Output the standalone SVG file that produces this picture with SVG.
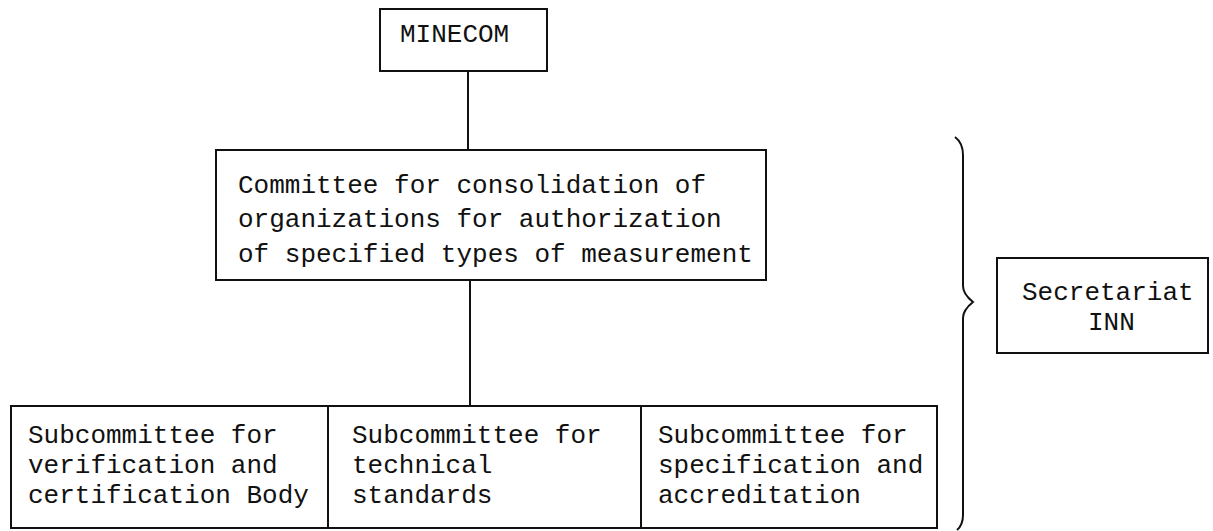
<svg xmlns="http://www.w3.org/2000/svg" width="1213" height="531" viewBox="0 0 1213 531">
  <style>
    .box { fill: none; stroke: #111; stroke-width: 2; }
    .lbl { font-family: "Liberation Mono", "DejaVu Sans Mono", monospace; font-size: 26px; fill: #111; }
    .link { stroke: #111; stroke-width: 2; fill: none; }
  </style>
  <rect width="1213" height="531" fill="#fff"/>

  <g id="connectors">
    <line class="link" x1="468" y1="71" x2="468" y2="150"/>
    <line class="link" x1="470" y1="280" x2="470" y2="406"/>
    <!-- brace grouping the committee and subcommittees -->
    <path class="link" stroke-width="2.5" d="M955,137 Q963,143 963,155 L963,286 Q963,294 973,302 Q963,310 963,318 L963,515 Q963,525 957,530"/>
  </g>

  <g id="minecom">
    <rect class="box" x="380" y="9" width="167" height="62"/>
    <text class="lbl" x="400" y="42">MINECOM</text>
  </g>

  <g id="committee">
    <rect class="box" x="216" y="150" width="550" height="130"/>
    <text class="lbl" x="238" y="193">Committee for consolidation of</text>
    <text class="lbl" x="238" y="227">organizations for authorization</text>
    <text class="lbl" x="238" y="262">of specified types of measurement</text>
  </g>

  <g id="sub-verification">
    <rect class="box" x="11" y="406" width="317" height="122"/>
    <text class="lbl" x="28" y="443">Subcommittee for</text>
    <text class="lbl" x="28" y="473">verification and</text>
    <text class="lbl" x="28" y="503">certification Body</text>
  </g>

  <g id="sub-technical">
    <rect class="box" x="328" y="406" width="313" height="122"/>
    <text class="lbl" x="352" y="443">Subcommittee for</text>
    <text class="lbl" x="352" y="473">technical</text>
    <text class="lbl" x="352" y="503">standards</text>
  </g>

  <g id="sub-specification">
    <rect class="box" x="641" y="406" width="296" height="122"/>
    <text class="lbl" x="658" y="443">Subcommittee for</text>
    <text class="lbl" x="658" y="473">specification and</text>
    <text class="lbl" x="658" y="503">accreditation</text>
  </g>

  <g id="secretariat">
    <rect class="box" x="997" y="258" width="211" height="95"/>
    <text class="lbl" x="1022" y="300">Secretariat</text>
    <text class="lbl" x="1088" y="330">INN</text>
  </g>
</svg>
